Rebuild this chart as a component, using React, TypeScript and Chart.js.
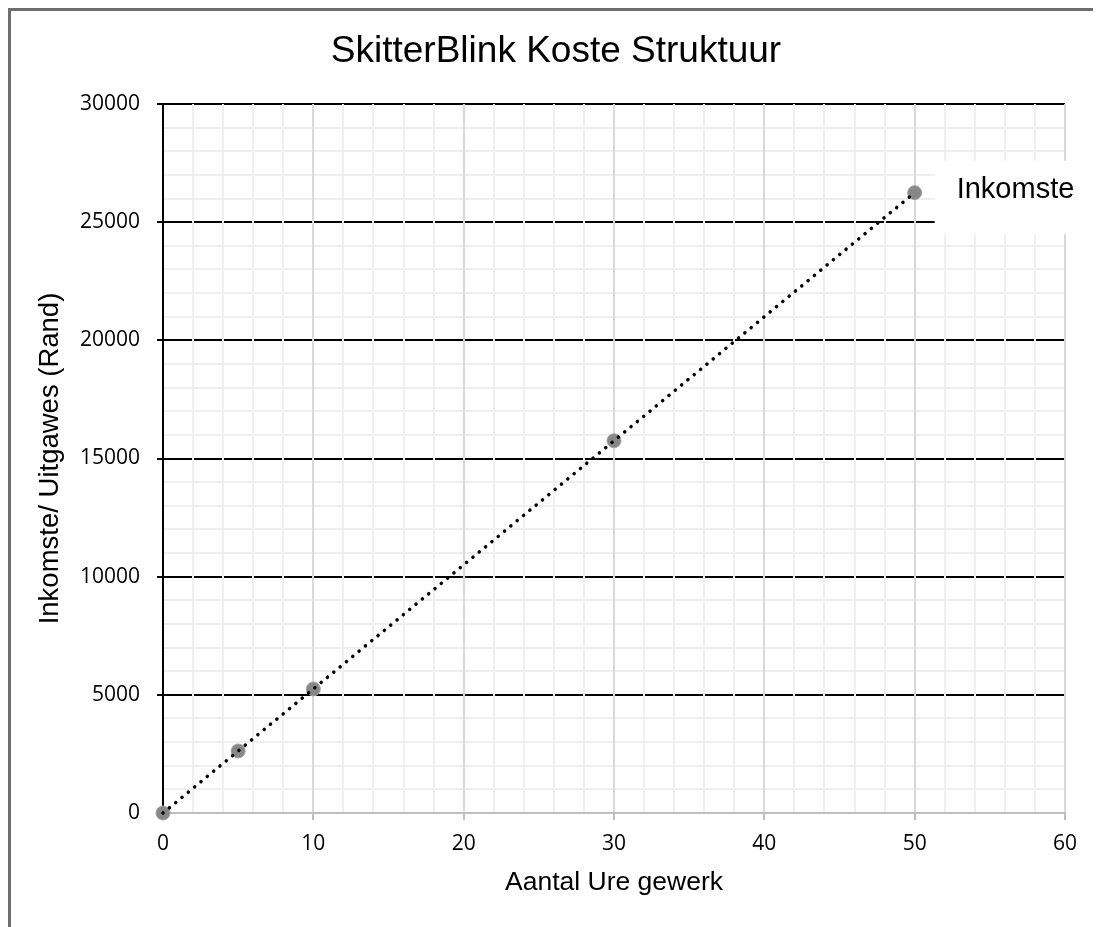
import React, { useEffect, useRef } from "react";
import { Chart, registerables } from "chart.js";

Chart.register(...registerables);

const chartTitle = "SkitterBlink Koste Struktuur";
const xAxisTitle = "Aantal Ure gewerk";
const yAxisTitle = "Inkomste/ Uitgawes (Rand)";
const seriesName = "Inkomste";
const hours = [0, 5, 10, 30, 50];
const income = [0, 2625, 5250, 15750, 26250];
const xMin = 0;
const xMax = 60;
const xMinorStep = 2;
const xMajorStep = 10;
const yMin = 0;
const yMax = 30000;
const yMinorStep = 1000;
const yMajorStep = 5000;

const TEXT_FONT = '"Liberation Sans", Arial, sans-serif';
const TICK_FONT = '"Open Sans", "Noto Sans", sans-serif';

const labelPlugin = {
  id: "seriesLabel",
  beforeDatasetsDraw(chart: any) {
    const meta = chart.getDatasetMeta(1);
    const pts = meta.data;
    if (!pts || !pts.length) return;
    const p = pts[pts.length - 1];
    const ctx = chart.ctx;
    ctx.save();
    ctx.fillStyle = "#ffffff";
    ctx.fillRect(p.x + 20, p.y - 32, 152, 73);
    ctx.fillStyle = "#000000";
    ctx.font = `29px ${TEXT_FONT}`;
    ctx.textBaseline = "middle";
    ctx.textAlign = "left";
    ctx.fillText(seriesName, p.x + 42, p.y - 3);
    ctx.restore();
  },
};

export default function App() {
  const ref = useRef<HTMLCanvasElement | null>(null);

  useEffect(() => {
    if (!ref.current) return;
    const points = hours.map((h, i) => ({ x: h, y: income[i] }));
    const chart = new Chart(ref.current, {
      type: "scatter",
      data: {
        datasets: [
          {
            label: "Trend",
            data: points,
            showLine: true,
            borderColor: "#000000",
            borderWidth: 3.5,
            borderDash: [0.1, 8.1],
            borderCapStyle: "round",
            pointRadius: 0,
            pointHoverRadius: 0,
            fill: false,
            clip: false,
            order: 0,
          } as any,
          {
            label: seriesName,
            data: points,
            showLine: false,
            pointRadius: 7,
            pointHoverRadius: 7,
            backgroundColor: "#878787",
            borderColor: "#a3a3a3",
            borderWidth: 1,
            clip: false,
            order: 1,
          } as any,
        ],
      },
      options: {
        responsive: true,
        maintainAspectRatio: false,
        animation: false,
        layout: { padding: 0 },
        plugins: {
          legend: { display: false },
          tooltip: { enabled: false },
          title: {
            display: true,
            text: chartTitle,
            color: "#000000",
            font: { family: TEXT_FONT, size: 37, weight: "normal" },
            padding: { top: 19, bottom: 29.6 },
          },
        },
        scales: {
          x: {
            type: "linear",
            position: "bottom",
            min: xMin,
            max: xMax,
            afterFit: (s: any) => {
              s.height = 114;
            },
            grid: {
              z: -1,
              lineWidth: 2,
              color: (c: any) =>
                c.tick && c.tick.value % xMajorStep === 0 ? "#d9d9d9" : "#efefef",
              tickColor: (c: any) =>
                c.tick && c.tick.value % xMajorStep === 0 ? "#bfbfbf" : "rgba(0,0,0,0)",
              tickLength: 7,
              tickWidth: 2,
            },
            border: { color: "#bfbfbf", width: 2 },
            ticks: {
              stepSize: xMinorStep,
              autoSkip: false,
              maxRotation: 0,
              padding: 11,
              color: "#000000",
              font: { family: TICK_FONT, size: 21 },
              callback: (v: any) => (Number(v) % xMajorStep === 0 ? String(v) : ""),
            },
            title: {
              display: true,
              text: xAxisTitle,
              color: "#000000",
              font: { family: TEXT_FONT, size: 26.5 },
              padding: { top: 0, bottom: 28 },
            },
          },
          y: {
            type: "linear",
            position: "left",
            min: yMin,
            max: yMax,
            afterFit: (s: any) => {
              s.width = 152;
            },
            grid: {
              z: -2,
              lineWidth: 2,
              color: (c: any) =>
                c.tick && c.tick.value % yMajorStep === 0 ? "#000000" : "#efefef",
              tickColor: (c: any) =>
                c.tick && c.tick.value % yMajorStep === 0 ? "#000000" : "rgba(0,0,0,0)",
              tickLength: 6,
              tickWidth: 2,
            },
            border: { color: "#000000", width: 2 },
            ticks: {
              stepSize: yMinorStep,
              autoSkip: false,
              padding: 17,
              color: "#000000",
              font: { family: TICK_FONT, size: 21 },
              callback: (v: any) => (Number(v) % yMajorStep === 0 ? String(v) : ""),
            },
            title: {
              display: true,
              text: yAxisTitle,
              color: "#000000",
              font: { family: TEXT_FONT, size: 27.5 },
              padding: { top: 23, bottom: 0 },
            },
          },
          y2: {
            type: "linear",
            position: "right",
            display: true,
            afterFit: (s: any) => {
              s.width = 36;
            },
            grid: { display: false },
            border: { display: false },
            ticks: { display: false },
          },
        },
      } as any,
      plugins: [labelPlugin],
    });
    return () => chart.destroy();
  }, []);

  return (
    <div style={{ width: 1093, height: 919, overflow: "hidden" }}>
      <div
        style={{
          width: 1200,
          height: 1000,
          border: "3px solid #6e6e6e",
          boxSizing: "border-box",
          background: "#ffffff",
        }}
      >
        <div style={{ position: "relative", width: 1090, height: 916 }}>
          <canvas ref={ref} />
        </div>
      </div>
    </div>
  );
}
